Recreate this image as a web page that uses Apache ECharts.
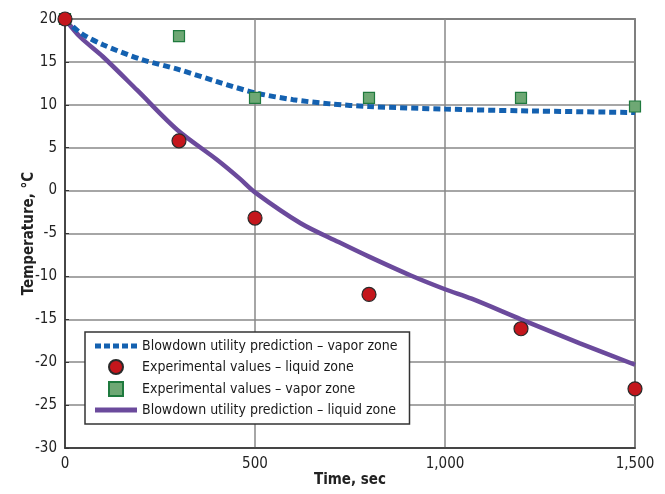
<!DOCTYPE html>
<html>
<head>
<meta charset="utf-8">
<script src="https://cdn.jsdelivr.net/npm/echarts@6/dist/echarts.min.js"></script>
<style>
  html, body { margin: 0; padding: 0; background: #fff; }
  #chart { width: 665px; height: 494px; }
</style>
</head>
<body>
<div id="chart"></div>
<script>
// values
var vaporPredT = [0, 40, 100, 200, 300, 400, 500, 600, 700, 800, 1000, 1200, 1500];
var vaporPredV = [20, 18.4, 17, 15.3, 14.1, 12.7, 11.4, 10.6, 10.1, 9.8, 9.5, 9.3, 9.1];
var liquidPredT = [0, 40, 100, 190, 295, 400, 460, 500, 620, 720, 800, 910, 1000, 1070, 1200, 1355, 1500];
var liquidPredV = [20, 17.9, 15.6, 11.7, 7.1, 3.6, 1.4, -0.2, -3.8, -6, -7.7, -9.9, -11.5, -12.6, -15, -17.8, -20.3];
var expT = [0, 300, 500, 800, 1200, 1500];
var expLiquid = [20, 5.8, -3.2, -12.1, -16.1, -23.1];
var expVapor = [20, 18, 10.8, 10.8, 10.8, 9.8];
var names = [
  'Blowdown utility prediction – vapor zone',
  'Experimental values – liquid zone',
  'Experimental values – vapor zone',
  'Blowdown utility prediction – liquid zone'
];

function pairs(xs, ys) {
  return xs.map(function (x, i) { return [x, ys[i]]; });
}

var font = '"DejaVu Sans Condensed", "Liberation Sans Narrow", sans-serif';
var blue = '#1461b0', purple = '#6b4a9c';

// legend icons: dashes / bar / square, kept at their own aspect
var dashIcon = 'path://M0,0h6v5h-6z M9,0h6v5h-6z M18,0h6v5h-6z M27,0h6v5h-6z M36,0h6v5h-6z';
var barIcon = 'path://M0,0h42v5h-42z';
var squareIcon = 'path://M0,0h10v10h-10z';

var chart = echarts.init(document.getElementById('chart'));

chart.setOption({
  animation: false,
  textStyle: { fontFamily: font },
  grid: { left: 65, right: 30, top: 19, bottom: 46, show: true, borderColor: '#333', borderWidth: 1.5 },
  legend: {
    orient: 'vertical',
    left: 85,
    top: 332,
    data: [
      { name: names[0], icon: dashIcon, itemStyle: { color: blue, borderWidth: 0 } },
      { name: names[1], icon: 'circle' },
      { name: names[2], icon: squareIcon },
      { name: names[3], icon: barIcon, itemStyle: { color: purple, borderWidth: 0 } }
    ],
    symbolKeepAspect: true,
    backgroundColor: '#fff',
    borderColor: '#333',
    borderWidth: 1.5,
    padding: [7, 12, 7, 10],
    itemWidth: 42,
    itemHeight: 14,
    itemGap: 6,
    textStyle: { fontFamily: font, fontSize: 14, color: '#1a1a1a' }
  },
  xAxis: {
    type: 'value',
    min: 0, max: 1500, interval: 500,
    name: 'Time, sec',
    nameLocation: 'middle',
    nameMoveOverlap: false,
    nameGap: 25,
    nameTextStyle: { fontFamily: font, fontSize: 15, fontWeight: 'bold', color: '#222' },
    axisLine: { onZero: false, lineStyle: { color: '#333', width: 1.5 } },
    axisTick: { show: false },
    axisLabel: {
      fontSize: 15, color: '#222', margin: 9,
      formatter: function (v) { return v.toLocaleString('en-US'); }
    },
    splitLine: { lineStyle: { color: '#888', width: 1.5 } }
  },
  yAxis: {
    type: 'value',
    min: -30, max: 20, interval: 5,
    name: 'Temperature, °C',
    nameLocation: 'middle',
    nameMoveOverlap: false,
    nameGap: 28,
    nameTextStyle: { fontFamily: font, fontSize: 15, fontWeight: 'bold', color: '#222' },
    axisLine: { show: true, onZero: false, lineStyle: { color: '#333', width: 1.5 } },
    axisTick: { show: true, inside: true, length: 4, lineStyle: { color: '#333' } },
    axisLabel: { fontSize: 15, color: '#222', margin: 8 },
    splitLine: { lineStyle: { color: '#888', width: 1.5 } }
  },
  series: [
    {
      name: names[0], type: 'line', data: pairs(vaporPredT, vaporPredV),
      smooth: 0.3, symbol: 'none', z: 3,
      lineStyle: { color: blue, width: 5, type: [7, 4] },
      itemStyle: { color: blue }
    },
    {
      name: names[1], type: 'scatter', data: pairs(expT, expLiquid),
      symbol: 'circle', symbolSize: 14, clip: false, z: 5,
      itemStyle: { color: '#c4161c', borderColor: '#2a2a2a', borderWidth: 1.2, opacity: 1 }
    },
    {
      name: names[2], type: 'scatter', data: pairs(expT, expVapor),
      symbol: 'rect', symbolSize: 11, clip: false, z: 4,
      itemStyle: { color: '#6ea874', borderColor: '#1f7a3e', borderWidth: 1.2, opacity: 1 }
    },
    {
      name: names[3], type: 'line', data: pairs(liquidPredT, liquidPredV),
      smooth: 0.3, symbol: 'none', z: 2,
      lineStyle: { color: purple, width: 4.5 },
      itemStyle: { color: purple }
    }
  ]
});
</script>
</body>
</html>
